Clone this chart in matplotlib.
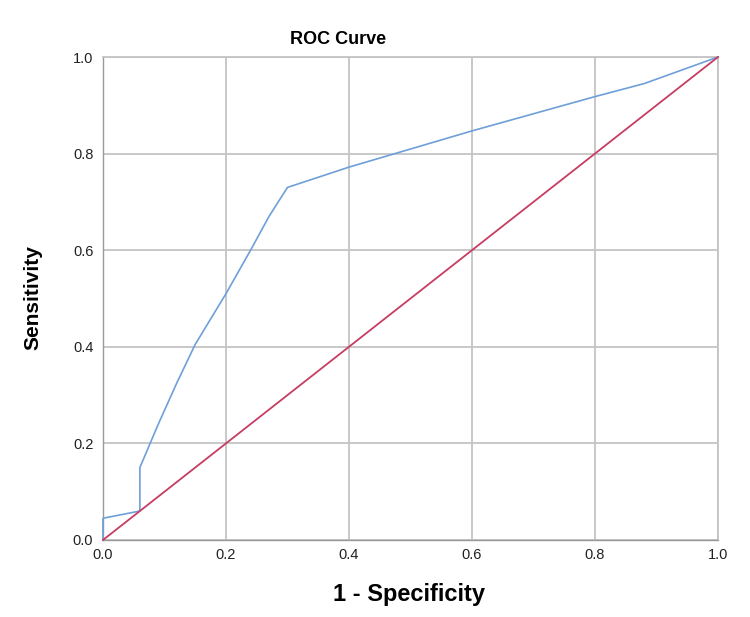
import matplotlib
matplotlib.use("Agg")
import matplotlib.pyplot as plt

# ROC curve data (1 - specificity, sensitivity)
fpr = [0.0, 0.0, 0.06, 0.06, 0.09, 0.12, 0.15, 0.20, 0.24, 0.27, 0.30, 0.40, 0.60, 0.80, 0.88, 1.0]
tpr = [0.0, 0.045, 0.06, 0.15, 0.24, 0.325, 0.405, 0.51, 0.60, 0.67, 0.73, 0.772, 0.847, 0.918, 0.945, 1.0]
ref_x = [0.0, 1.0]
ref_y = [0.0, 1.0]
ticks = [0.0, 0.2, 0.4, 0.6, 0.8, 1.0]
tick_labels = ["0.0", "0.2", "0.4", "0.6", "0.8", "1.0"]

plt.rcParams['font.family'] = ['Liberation Sans', 'DejaVu Sans']

fig = plt.figure(figsize=(7.5, 6.17), dpi=100)
ax = fig.add_axes([0.1373, 0.1248, 0.82, 0.7828])

ax.plot(fpr, tpr, color='#6f9fd8', lw=1.2, zorder=3, clip_on=False)
ax.plot(ref_x, ref_y, color='#c63d62', lw=1.3, zorder=3, clip_on=False)

ax.set_xlim(0, 1)
ax.set_ylim(0, 1)
ax.set_xticks(ticks)
ax.set_yticks(ticks)
ax.set_xticklabels(tick_labels, fontsize=10.5)
ax.set_yticklabels(tick_labels, fontsize=10.5)
ax.tick_params(axis='x', length=0, pad=6, colors='#222222')
ax.tick_params(axis='y', length=0, pad=7, colors='#222222')
ax.grid(True, color='#c4c4c4', lw=1.3)
ax.set_axisbelow(True)
for s in ['top', 'right']:
    ax.spines[s].set_color('#c4c4c4')
    ax.spines[s].set_linewidth(1.3)
for s in ['left', 'bottom']:
    ax.spines[s].set_color('#999999')
    ax.spines[s].set_linewidth(1.0)

fig.text(338/750, 1 - 40/617, "ROC Curve", ha='center', va='center', fontsize=13, fontweight='bold')
fig.text(409/750, 1 - 595/617, "1 - Specificity", ha='center', va='center', fontsize=17, fontweight='bold')
fig.text(33/750, 1 - 298/617, "Sensitivity", ha='center', va='center', rotation=90, fontsize=15, fontweight='bold')

fig.savefig("out.png", dpi=100, facecolor='white')
